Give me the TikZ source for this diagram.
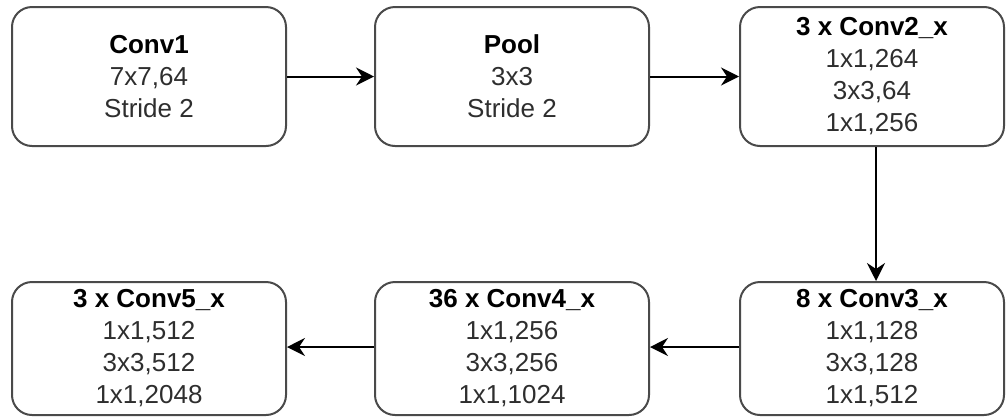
\documentclass[tikz,border=0pt]{standalone}
\usepackage{fontspec}
\setmainfont{Liberation Sans}
\usetikzlibrary{arrows.meta}
\definecolor{edge}{HTML}{4A4A4A}
\definecolor{txt}{HTML}{2E2E2E}
\tikzset{
  layer/.style={draw=edge, line width=2pt, rounded corners=20pt, fill=white,
    align=center, inner sep=0pt, text=txt,
    font=\fontsize{26}{32}\selectfont},
  wide/.style={layer, minimum width=274pt},
  narrow/.style={layer, minimum width=264pt},
  tall/.style={minimum height=139pt},
  short/.style={minimum height=133pt},
  flow/.style={line width=2pt, draw=black,
    -{Stealth[length=18pt, width=18pt, inset=6pt]}}
}
\newcommand{\ttl}[1]{{\bfseries\color{black}#1}}
\begin{document}
\begin{tikzpicture}[x=1pt, y=-1pt]
  \useasboundingbox (0,0) rectangle (1006,416);

  % top row
  \node[wide, tall]   (conv1) at (149,76.5) {\ttl{Conv1}\\7x7,64\\Stride 2};
  \node[wide, tall]   (pool)  at (512,76.5) {\ttl{Pool}\\3x3\\Stride 2};
  \node[narrow, tall] (conv2) at (872,76.5) {\ttl{3 x Conv2\_x}\\1x1,264\\3x3,64\\1x1,256};

  % bottom row
  \node[narrow, short] (conv3) at (872,348.5) {\ttl{8 x Conv3\_x}\\1x1,128\\3x3,128\\1x1,512};
  \node[wide, short]   (conv4) at (512,348.5) {\ttl{36 x Conv4\_x}\\1x1,256\\3x3,256\\1x1,1024};
  \node[wide, short]   (conv5) at (149,348.5) {\ttl{3 x Conv5\_x}\\1x1,512\\3x3,512\\1x1,2048};

  % data flow
  \draw[flow] (conv1) -- (pool);
  \draw[flow] (pool) -- (conv2);
  \draw[flow] ([xshift=4pt]conv2.south) -- ([xshift=4pt]conv3.north);
  \draw[flow] ([yshift=1.5pt]conv3.west) -- ([yshift=1.5pt]conv4.east);
  \draw[flow] ([yshift=1.5pt]conv4.west) -- ([yshift=1.5pt]conv5.east);
\end{tikzpicture}
\end{document}
